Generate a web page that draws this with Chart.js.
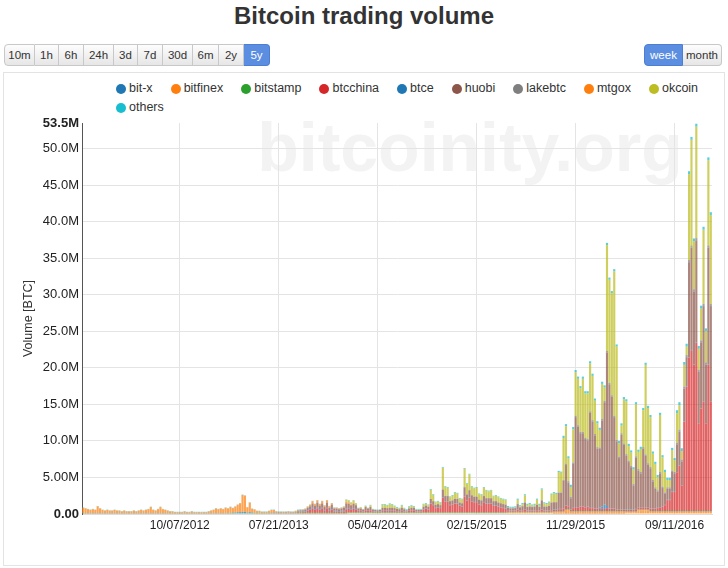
<!DOCTYPE html>
<html>
<head>
<meta charset="utf-8">
<title>Bitcoin trading volume</title>
<script src="https://cdn.jsdelivr.net/npm/chart.js@4.4.1/dist/chart.umd.min.js"></script>
<style>
  html, body { margin: 0; padding: 0; background: #fff; }
  body { width: 728px; height: 568px; position: relative; overflow: hidden; font-family: "Liberation Sans", Arial, sans-serif; color: #333; }
  h1 { position: absolute; top: 0; left: 0; width: 728px; margin: 0; text-align: center; font-size: 24px; line-height: 32px; font-weight: bold; color: #333; }
  .group { position: absolute; top: 44px; display: flex; }
  .group span { box-sizing: border-box; height: 22px; line-height: 20px; text-align: center; font-size: 11.5px; border: 1px solid #c8c8c8; border-left-width: 0; background: linear-gradient(#fdfdfd, #e6e6e6); color: #333; }
  .group span:first-child { border-left-width: 1px; border-radius: 4px 0 0 4px; }
  .group span:last-child { border-radius: 0 4px 4px 0; }
  .group span.on { background: #5b8ee0; border-color: #4c7fd2; color: #fff; }
  .box { position: absolute; left: 3px; top: 72px; width: 720px; height: 492px; border: 1px solid #e3e3e3; }
  #legend { position: absolute; left: 116px; top: 79px; width: 590px; display: flex; flex-wrap: wrap; column-gap: 18px; font-size: 12.5px; line-height: 19px; color: #333; }
  #legend div { display: flex; align-items: center; }
  #legend i { width: 10px; height: 10px; border-radius: 50%; margin-right: 3px; display: inline-block; }
  #wrap { position: absolute; left: 4px; top: 112px; width: 720px; height: 450px; }
</style>
</head>
<body>
<h1>Bitcoin trading volume</h1>
<div class="group" style="left:4px">
  <span style="width:31px">10m</span><span style="width:24px">1h</span><span style="width:25px">6h</span><span style="width:30px">24h</span><span style="width:24px">3d</span><span style="width:25px">7d</span><span style="width:30px">30d</span><span style="width:26px">6m</span><span style="width:25px">2y</span><span class="on" style="width:26px">5y</span>
</div>
<div class="group" style="left:644px">
  <span class="on" style="width:39px">week</span><span style="width:39px">month</span>
</div>
<div class="box"></div>
<div id="legend"></div>
<div id="wrap"><canvas id="chart"></canvas></div>

<script>
// weekly buckets, first week starts 01/01/2012
const firstWeek = Date.UTC(2012, 0, 1);
const weekCount = 261;
const weeks = [];
for (let i = 0; i < weekCount; i++) {
  const d = new Date(firstWeek + i * 7 * 864e5);
  weeks.push(String(d.getUTCMonth() + 1).padStart(2, '0') + '/' + String(d.getUTCDate()).padStart(2, '0') + '/' + d.getUTCFullYear());
}
const xTickLabels = ['10/07/2012', '07/21/2013', '05/04/2014', '02/15/2015', '11/29/2015', '09/11/2016'];
const yTickValues = [0, 5, 10, 15, 20, 25, 30, 35, 40, 45, 50, 53.5];
const yMax = 53.5;

const seriesNames = ['bit-x', 'bitfinex', 'bitstamp', 'btcchina', 'btce', 'huobi', 'lakebtc', 'mtgox', 'okcoin', 'others'];
const seriesColors = ['#1f77b4', '#ff7f0e', '#2ca02c', '#d62728', '#1f77b4', '#8c564b', '#7f7f7f', '#ff7f0e', '#bcbd22', '#17becf'];

// volumes in millions of BTC, each series starts at the given week index
const bitxStart = 195;
const bitx = [
  0.05, 0.05, 0.05, 0.05, 0.05, 0.05, 0.05, 0.05, 0.05, 0.05,
  0.05, 0.05, 0.05, 0.05, 0.05, 0.05, 0.05, 0.05, 0.05, 0.05,
  0.05, 0.05, 0.05, 0.05, 0.05, 0.05, 0.05, 0.05, 0.05, 0.05
];

const bitfinexStart = 60;
const bitfinex = [
  0.05, 0.05, 0.05, 0.05, 0.05, 0.05, 0.05, 0.05, 0.05, 0.05,
  0.05, 0.05, 0.05, 0.05, 0.05, 0.05, 0.05, 0.05, 0.05, 0.05,
  0.05, 0.05, 0.05, 0.05, 0.05, 0.05, 0.05, 0.05, 0.05, 0.05,
  0.05, 0.05, 0.05, 0.05, 0.05, 0.05, 0.05, 0.05, 0.05, 0.05,
  0.05, 0.05, 0.05, 0.05, 0.05, 0.05, 0.05, 0.05, 0.05, 0.05,
  0.1, 0.1, 0.1, 0.1, 0.1, 0.1, 0.1, 0.1, 0.1, 0.1,
  0.1, 0.1, 0.1, 0.1, 0.1, 0.1, 0.1, 0.1, 0.1, 0.1,
  0.1, 0.1, 0.1, 0.1, 0.1, 0.1, 0.1, 0.1, 0.1, 0.1,
  0.1, 0.1, 0.1, 0.1, 0.1, 0.1, 0.1, 0.1, 0.1, 0.1,
  0.1, 0.1, 0.1, 0.1, 0.1, 0.1, 0.1, 0.1, 0.1, 0.1,
  0.1, 0.1, 0.1, 0.1, 0.1, 0.1, 0.1, 0.1, 0.1, 0.1,
  0.1, 0.1, 0.1, 0.1, 0.1, 0.1, 0.2, 0.2, 0.2, 0.2,
  0.2, 0.2, 0.2, 0.2, 0.2, 0.2, 0.2, 0.2, 0.2, 0.2,
  0.2, 0.2, 0.2, 0.2, 0.2, 0.2, 0.2, 0.2, 0.2, 0.2,
  0.5, 0.5, 0.25, 0.25, 0.25, 0.25, 0.25, 0.25, 0.25, 0.25,
  0.25, 0.25, 0.25, 0.25, 0.25, 0.25, 0.25, 0.25, 0.25, 0.25,
  0.25, 0.25, 0.25, 0.25, 0.25, 0.25, 0.25, 0.25, 0.25, 0.25,
  0.5, 0.5, 0.5, 0.5, 0.5, 0.3, 0.3, 0.3, 0.3, 0.3,
  0.3, 0.3, 0.3, 0.3, 0.3, 0.3, 0.3, 0.3, 0.3, 0.3,
  0.3, 0.3, 0.3, 0.3, 0.3, 0.3, 0.3, 0.3, 0.3, 0.3,
  0.3
];

const bitstampStart = 0;
const bitstamp = [
  0.05, 0.05, 0.05, 0.05, 0.05, 0.05, 0.05, 0.05, 0.05, 0.05,
  0.05, 0.05, 0.05, 0.05, 0.05, 0.05, 0.05, 0.05, 0.05, 0.05,
  0.05, 0.05, 0.05, 0.05, 0.05, 0.05, 0.05, 0.05, 0.05, 0.05,
  0.05, 0.05, 0.05, 0.05, 0.05, 0.05, 0.05, 0.05, 0.05, 0.05,
  0.05, 0.05, 0.05, 0.05, 0.05, 0.05, 0.05, 0.05, 0.05, 0.05,
  0.05, 0.05, 0.05, 0.05, 0.05, 0.05, 0.05, 0.05, 0.05, 0.05,
  0.05, 0.05, 0.05, 0.05, 0.05, 0.05, 0.05, 0.05, 0.05, 0.05,
  0.05, 0.05, 0.05, 0.05, 0.05, 0.05, 0.05, 0.05, 0.05, 0.05,
  0.05, 0.05, 0.05, 0.05, 0.05, 0.05, 0.05, 0.05, 0.05, 0.1,
  0.1, 0.1, 0.1, 0.1, 0.1, 0.1, 0.1, 0.1, 0.1, 0.1,
  0.1, 0.1, 0.1, 0.1, 0.1, 0.1, 0.1, 0.1, 0.1, 0.1,
  0.1, 0.1, 0.1, 0.1, 0.1, 0.1, 0.1, 0.1, 0.1, 0.1,
  0.1, 0.1, 0.1, 0.1, 0.1, 0.1, 0.1, 0.1, 0.1, 0.1,
  0.1, 0.1, 0.1, 0.1, 0.1, 0.1, 0.1, 0.1, 0.1, 0.1,
  0.1, 0.1, 0.1, 0.1, 0.1, 0.1, 0.1, 0.1, 0.1, 0.1,
  0.1, 0.1, 0.1, 0.1, 0.1, 0.1, 0.1, 0.1, 0.1, 0.1,
  0.1, 0.1, 0.1, 0.1, 0.1, 0.1, 0.1, 0.1, 0.1, 0.1,
  0.1, 0.1, 0.1, 0.1, 0.1, 0.1, 0.1, 0.1, 0.1, 0.1,
  0.1, 0.1, 0.1, 0.1, 0.1, 0.1, 0.1, 0.1, 0.1, 0.1,
  0.1, 0.1, 0.1, 0.1, 0.1, 0.1, 0.1, 0.1, 0.1, 0.1,
  0.1, 0.1, 0.1, 0.1, 0.1, 0.1, 0.1, 0.1, 0.1, 0.1,
  0.1, 0.1, 0.1, 0.1, 0.1, 0.1, 0.1, 0.1, 0.1, 0.1,
  0.1, 0.1, 0.1, 0.1, 0.1, 0.1, 0.1, 0.1, 0.1, 0.1,
  0.1, 0.1, 0.1, 0.1, 0.1, 0.1, 0.1, 0.1, 0.1, 0.1,
  0.1, 0.1, 0.1, 0.1, 0.1, 0.1, 0.1, 0.1, 0.1, 0.1,
  0.1, 0.1, 0.1, 0.1, 0.1, 0.1, 0.1, 0.1, 0.1, 0.1,
  0.1
];

const btcchinaStart = 78;
const btcchina = [
  0.05, 0.05, 0.05, 0.05, 0.05, 0.05, 0.05, 0.05, 0.05, 0.05,
  0.05, 0.1, 0.1, 0.1, 0.15, 0.3, 0.4, 0.6, 0.4, 0.6,
  0.4, 0.6, 0.3, 0.6, 0.3, 0.4, 0.2, 0.2, 0.15, 0.2,
  0.2, 0.5, 0.5, 0.4, 0.5, 0.4, 0.2, 0.2, 0.15, 0.3,
  0.2, 0.3, 0.15, 0.1, 0.1, 0.1, 0.2, 0.2, 0.2, 0.2,
  0.2, 0.2, 0.15, 0.15, 0.2, 0.15, 0.1, 0.2, 0.3, 0.3,
  0.15, 0.15, 0.15, 0.4, 0.5, 0.4, 1.2, 1.0, 0.6, 0.7,
  0.6, 2.0, 1.5, 1.5, 1.0, 1.1, 1.2, 1.2, 0.9, 0.8,
  2.2, 1.6, 2.0, 1.5, 1.4, 1.4, 1.1, 1.0, 1.4, 1.2,
  1.2, 1.2, 0.9, 0.9, 0.8, 0.7, 0.6, 0.5, 0.2, 0.15,
  0.15, 0.15, 0.3, 0.15, 0.2, 0.3, 0.15, 0.15, 0.15, 0.15,
  0.2, 0.15, 0.3, 0.15, 0.15, 0.15, 0.2, 0.2, 0.2, 0.3,
  0.3, 0.4, 0.5, 0.4, 0.2, 0.4, 0.5, 0.5, 0.6, 0.6,
  0.5, 0.6, 0.4, 0.4, 0.3, 0.3, 0.3, 0.3, 0.3, 0.4,
  0.3, 0.3, 0.3, 0.2, 0.2, 0.2, 0.2, 0.2, 0.2, 0.2,
  0.2, 0.3, 0.3, 0.3, 0.3, 0.3, 0.3, 0.3, 0.3, 0.3,
  0.4, 0.5, 0.6, 0.8, 1.5, 1.5, 2.6, 2.6, 5.3, 6.2,
  3.5, 12.2, 17.0, 21.0, 22.0, 20.0, 23.0, 12.0, 14.0, 15.0,
  12.0, 20.0, 15.0
];

const btceStart = 0;
const btce = [
  0.05, 0.05, 0.05, 0.05, 0.05, 0.05, 0.05, 0.05, 0.05, 0.05,
  0.05, 0.05, 0.05, 0.05, 0.05, 0.05, 0.05, 0.05, 0.05, 0.05,
  0.05, 0.05, 0.05, 0.05, 0.05, 0.05, 0.05, 0.05, 0.05, 0.05,
  0.05, 0.05, 0.05, 0.05, 0.05, 0.05, 0.05, 0.05, 0.05, 0.05,
  0.05, 0.05, 0.05, 0.05, 0.05, 0.05, 0.05, 0.05, 0.05, 0.05,
  0.05, 0.05, 0.05, 0.05, 0.05, 0.05, 0.05, 0.05, 0.05, 0.05,
  0.05, 0.05, 0.1, 0.1, 0.15, 0.15, 0.2, 0.2, 0.1, 0.15,
  0.1, 0.05, 0.05, 0.05, 0.05, 0.05, 0.05, 0.05, 0.05, 0.05,
  0.05, 0.05, 0.05, 0.05, 0.05, 0.05, 0.05, 0.05, 0.05, 0.1,
  0.1, 0.1, 0.1, 0.1, 0.1, 0.1, 0.1, 0.1, 0.1, 0.1,
  0.1, 0.1, 0.1, 0.1, 0.1, 0.1, 0.1, 0.1, 0.1, 0.1,
  0.1, 0.1, 0.1, 0.1, 0.05, 0.05, 0.05, 0.05, 0.05, 0.05,
  0.05, 0.05, 0.05, 0.05, 0.05, 0.05, 0.05, 0.05, 0.05, 0.05,
  0.05, 0.05, 0.05, 0.05, 0.05, 0.05, 0.05, 0.05, 0.05, 0.05,
  0.05, 0.05, 0.05, 0.05, 0.05, 0.05, 0.05, 0.05, 0.05, 0.05,
  0.05, 0.05, 0.05, 0.05, 0.05, 0.05, 0.05, 0.05, 0.05, 0.05,
  0.05, 0.05, 0.05, 0.05, 0.05, 0.05, 0.05, 0.05, 0.05, 0.05,
  0.05, 0.05, 0.05, 0.05, 0.05, 0.05, 0.05, 0.05, 0.05, 0.05,
  0.05, 0.05, 0.05, 0.05, 0.05, 0.05, 0.05, 0.05, 0.05, 0.05,
  0.05, 0.05, 0.05, 0.05, 0.05, 0.05, 0.05, 0.05, 0.05, 0.05,
  0.05, 0.05, 0.05, 0.05, 0.05, 0.05, 0.05, 0.05, 0.05, 0.05,
  0.05, 0.05, 0.05, 0.05, 0.2, 0.3, 0.6, 0.3, 0.05, 0.05,
  0.05, 0.05, 0.05, 0.05, 0.05, 0.05, 0.05, 0.05, 0.05, 0.05,
  0.05, 0.05, 0.05, 0.05, 0.05, 0.05, 0.05, 0.05, 0.05, 0.05,
  0.05, 0.05, 0.05, 0.05, 0.05, 0.05, 0.05, 0.05, 0.05, 0.05,
  0.05, 0.05, 0.05, 0.05, 0.05, 0.05, 0.05, 0.05, 0.05, 0.05,
  0.05
];

const huobiStart = 88;
const huobi = [
  0.05, 0.1, 0.15, 0.15, 0.2, 0.3, 0.4, 0.6, 0.5, 0.7,
  0.5, 0.6, 0.4, 0.7, 0.3, 0.6, 0.3, 0.3, 0.25, 0.3,
  0.4, 0.7, 0.6, 0.5, 0.6, 0.5, 0.3, 0.3, 0.2, 0.4,
  0.3, 0.4, 0.2, 0.2, 0.15, 0.2, 0.4, 0.4, 0.35, 0.4,
  0.4, 0.35, 0.3, 0.25, 0.4, 0.25, 0.15, 0.3, 0.3, 0.3,
  0.15, 0.15, 0.15, 0.35, 0.4, 0.35, 0.6, 0.5, 0.4, 0.4,
  0.35, 1.1, 0.7, 0.7, 0.5, 0.5, 0.6, 0.6, 0.4, 0.4,
  1.2, 0.8, 1.0, 0.8, 0.7, 0.7, 0.6, 0.6, 0.8, 0.7,
  0.7, 0.7, 0.6, 0.6, 0.5, 0.5, 0.5, 0.5, 0.3, 0.25,
  0.25, 0.3, 0.7, 0.4, 0.5, 0.9, 0.45, 0.5, 0.45, 0.5,
  0.7, 0.45, 1.2, 0.5, 0.5, 0.6, 1.0, 1.0, 1.0, 2.2,
  2.2, 3.8, 5.5, 3.2, 1.5, 6.0, 12.3, 11.0, 10.0, 10.0,
  9.3, 9.0, 13.0, 11.8, 10.0, 8.2, 8.0, 11.8, 14.0, 21.0,
  17.0, 15.3, 12.5, 9.3, 7.0, 10.2, 8.8, 7.4, 6.5, 5.8,
  3.3, 7.0, 5.0, 4.6, 8.0, 7.0, 5.8, 5.5, 3.7, 2.7,
  2.2, 4.6, 2.5, 1.5, 1.5, 1.5, 2.7, 2.5, 3.7, 4.6,
  3.2, 4.5, 4.0, 13.0, 14.0, 10.0, 14.0, 7.0, 9.0, 13.0,
  8.0, 16.0, 13.0
];

const lakebtcStart = 150;
const lakebtc = [
  0.05, 0.05, 0.05, 0.05, 0.05, 0.05, 0.05, 0.05, 0.05, 0.05,
  0.05, 0.05, 0.05, 0.05, 0.05, 0.05, 0.05, 0.05, 0.05, 0.05,
  0.05, 0.05, 0.05, 0.05, 0.05, 0.05, 0.05, 0.05, 0.05, 0.05,
  0.05, 0.05, 0.05, 0.05, 0.05, 0.05, 0.05, 0.05, 0.05, 0.05,
  0.05, 0.05, 0.05, 0.05, 0.05, 0.05, 0.05, 0.05, 0.05, 0.05,
  0.2, 0.2, 0.2, 0.2, 0.2, 0.2, 0.2, 0.2, 0.2, 0.2,
  0.2, 0.2, 0.2, 0.2, 0.2, 0.2, 0.2, 0.2, 0.2, 0.2,
  0.2, 0.2, 0.2, 0.2, 0.2, 0.2, 0.2, 0.2, 0.2, 0.2,
  0.2, 0.2, 0.2, 0.2, 0.2, 0.2, 0.2, 0.2, 0.2, 0.2,
  0.2, 0.2, 0.2, 0.2, 0.2, 0.2, 0.3, 0.3, 0.3, 0.3,
  0.3, 0.3, 0.3, 0.3, 0.3, 0.3, 0.3, 0.3, 0.3, 0.3,
  0.3
];

const mtgoxStart = 0;
const mtgox = [
  0.75, 0.65, 0.55, 0.45, 0.55, 0.45, 0.95, 0.65, 0.45, 0.35,
  0.45, 0.35, 0.35, 0.45, 0.35, 0.35, 0.25, 0.35, 0.25, 0.25,
  0.25, 0.35, 0.25, 0.35, 0.45, 0.35, 0.45, 0.55, 0.85, 0.45,
  0.35, 0.55, 0.85, 0.55, 0.45, 0.35, 0.25, 0.25, 0.15, 0.15,
  0.15, 0.15, 0.25, 0.15, 0.15, 0.25, 0.15, 0.15, 0.15, 0.15,
  0.15, 0.15, 0.25, 0.35, 0.45, 0.65, 0.55, 0.65, 0.55, 0.75,
  0.6, 0.8, 0.6, 0.8, 1.0, 1.2, 2.3, 2.2, 0.7, 1.3,
  0.5, 0.45, 0.25, 0.25, 0.15, 0.15, 0.15, 0.25, 0.35, 0.35,
  0.15, 0.1, 0.1, 0.1, 0.1, 0.15, 0.1, 0.1, 0.15, 0.1,
  0.1, 0.1, 0.1, 0.15, 0.2, 0.3, 0.2, 0.3, 0.2, 0.3,
  0.2, 0.3, 0.2, 0.2, 0.1, 0.1, 0.1, 0.1, 0.1, 0.2,
  0.2, 0.1, 0.1
];

const okcoinStart = 108;
const okcoin = [
  0.05, 0.3, 0.25, 0.25, 0.35, 0.25, 0.05, 0.15, 0.05, 0.15,
  0.05, 0.25, 0.05, 0.05, 0.05, 0.05, 0.4, 0.4, 0.35, 0.5,
  0.4, 0.25, 0.15, 0.1, 0.3, 0.1, 0.05, 0.2, 0.25, 0.15,
  0.05, 0.05, 0.05, 0.3, 0.25, 0.2, 1.25, 0.85, 0.35, 0.35,
  0.3, 2.95, 1.2, 1.1, 0.5, 0.6, 0.8, 0.7, 0.5, 0.5,
  2.5, 1.4, 2.1, 1.1, 1.1, 1.2, 0.7, 0.7, 1.1, 1.0,
  0.9, 1.0, 0.6, 0.7, 0.7, 0.6, 0.6, 0.6, 0.05, 0.05,
  0.05, 0.05, 0.55, 0.1, 0.25, 0.95, 0.25, 0.3, 0.15, 0.2,
  0.65, 0.25, 1.45, 0.4, 0.3, 0.4, 1.05, 1.2, 1.1, 2.8,
  2.7, 5.75, 5.1, 3.1, 1.35, 4.55, 5.95, 6.35, 5.95, 7.25,
  6.05, 6.25, 6.55, 6.05, 4.55, 3.25, 2.4, 4.8, 1.8, 14.5,
  14.1, 13.95, 19.75, 12.75, 1.85, 1.05, 6.05, 7.2, 2.0, 1.8,
  2.0, 7.1, 2.35, 3.15, 5.05, 12.25, 7.55, 6.8, 3.6, 3.2,
  1.8, 7.8, 4.0, 2.8, 1.0, 1.0, 2.8, 1.6, 4.05, 3.35,
  1.15, 2.95, 1.15, 11.75, 14.45, 6.55, 15.25, 2.85, 4.35, 10.15,
  4.25, 11.65, 12.15
];

const othersStart = 0;
const others = [
  0.05, 0.05, 0.05, 0.05, 0.05, 0.05, 0.05, 0.05, 0.05, 0.05,
  0.05, 0.05, 0.05, 0.05, 0.05, 0.05, 0.05, 0.05, 0.05, 0.05,
  0.05, 0.05, 0.05, 0.05, 0.05, 0.05, 0.05, 0.05, 0.05, 0.05,
  0.05, 0.05, 0.05, 0.05, 0.05, 0.05, 0.05, 0.05, 0.05, 0.05,
  0.05, 0.05, 0.05, 0.05, 0.05, 0.05, 0.05, 0.05, 0.05, 0.05,
  0.05, 0.05, 0.05, 0.05, 0.05, 0.05, 0.05, 0.05, 0.05, 0.05,
  0.05, 0.05, 0.05, 0.05, 0.05, 0.05, 0.05, 0.05, 0.05, 0.05,
  0.05, 0.05, 0.05, 0.05, 0.05, 0.05, 0.05, 0.05, 0.05, 0.05,
  0.05, 0.05, 0.05, 0.05, 0.05, 0.05, 0.05, 0.05, 0.05, 0.05,
  0.05, 0.05, 0.05, 0.05, 0.05, 0.05, 0.05, 0.05, 0.05, 0.05,
  0.05, 0.05, 0.05, 0.05, 0.05, 0.05, 0.05, 0.05, 0.05, 0.05,
  0.05, 0.05, 0.05, 0.05, 0.05, 0.05, 0.05, 0.05, 0.05, 0.05,
  0.05, 0.05, 0.05, 0.05, 0.1, 0.1, 0.1, 0.1, 0.1, 0.1,
  0.1, 0.1, 0.1, 0.1, 0.1, 0.1, 0.1, 0.1, 0.1, 0.1,
  0.1, 0.1, 0.1, 0.1, 0.1, 0.1, 0.1, 0.1, 0.1, 0.1,
  0.1, 0.1, 0.1, 0.1, 0.1, 0.1, 0.1, 0.1, 0.1, 0.1,
  0.1, 0.1, 0.1, 0.1, 0.1, 0.1, 0.1, 0.1, 0.1, 0.1,
  0.1, 0.1, 0.1, 0.1, 0.1, 0.1, 0.15, 0.15, 0.15, 0.15,
  0.15, 0.15, 0.15, 0.15, 0.15, 0.15, 0.15, 0.15, 0.15, 0.15,
  0.15, 0.15, 0.15, 0.15, 0.15, 0.15, 0.15, 0.15, 0.15, 0.3,
  0.3, 0.3, 0.3, 0.3, 0.3, 0.3, 0.3, 0.3, 0.3, 0.3,
  0.3, 0.3, 0.3, 0.3, 0.3, 0.3, 0.3, 0.3, 0.3, 0.3,
  0.3, 0.3, 0.3, 0.3, 0.3, 0.3, 0.3, 0.3, 0.3, 0.3,
  0.3, 0.3, 0.3, 0.3, 0.3, 0.3, 0.3, 0.3, 0.3, 0.3,
  0.3, 0.3, 0.3, 0.3, 0.3, 0.3, 0.4, 0.4, 0.4, 0.4,
  0.4, 0.4, 0.4, 0.4, 0.4, 0.4, 0.4, 0.4, 0.4, 0.4,
  0.4
];

// put a series on the full week axis, empty before it starts
function onWeeks(start, values) {
  const out = new Array(weekCount).fill(null);
  values.forEach((v, i) => { if (start + i < weekCount) out[start + i] = v; });
  return out;
}

const seriesData = [
  onWeeks(bitxStart, bitx),
  onWeeks(bitfinexStart, bitfinex),
  onWeeks(bitstampStart, bitstamp),
  onWeeks(btcchinaStart, btcchina),
  onWeeks(btceStart, btce),
  onWeeks(huobiStart, huobi),
  onWeeks(lakebtcStart, lakebtc),
  onWeeks(mtgoxStart, mtgox),
  onWeeks(okcoinStart, okcoin),
  onWeeks(othersStart, others)
];

function alpha(hex, a) {
  const n = parseInt(hex.slice(1), 16);
  return 'rgba(' + (n >> 16) + ',' + ((n >> 8) & 255) + ',' + (n & 255) + ',' + a + ')';
}

// legend (html, like the original page)
const legendEl = document.getElementById('legend');
seriesNames.forEach((name, i) => {
  const item = document.createElement('div');
  item.innerHTML = '<i style="background:' + seriesColors[i] + '"></i>' + name;
  legendEl.appendChild(item);
});

const watermark = {
  id: 'watermark',
  beforeDraw(chart) {
    const { ctx, chartArea } = chart;
    ctx.save();
    ctx.font = 'bold 68px "Liberation Sans", Arial, sans-serif';
    ctx.fillStyle = '#f3f3f3';
    ctx.textAlign = 'center';
    ctx.fillText('bitcoinity.org', chartArea.left + 388, chartArea.top + 48);
    ctx.restore();
  }
};

const font = '"Liberation Sans", Arial, sans-serif';

new Chart(document.getElementById('chart'), {
  type: 'bar',
  data: {
    labels: weeks,
    datasets: seriesNames.map((name, i) => ({
      label: name,
      data: seriesData[i],
      backgroundColor: alpha(seriesColors[i], 0.72),
      borderWidth: 0,
      barPercentage: 0.9,
      categoryPercentage: 1.0
    }))
  },
  options: {
    responsive: true,
    maintainAspectRatio: false,
    animation: false,
    layout: { padding: { left: 14, right: 12, top: 11, bottom: 0 } },
    plugins: { legend: { display: false }, tooltip: { enabled: false } },
    scales: {
      x: {
        stacked: true,
        afterFit: (s) => { s.height = 48; },
        grid: {
          offset: false,
          drawTicks: false,
          color: (c) => (c.tick && xTickLabels.includes(weeks[c.tick.value]) ? '#e4e4e4' : 'rgba(0,0,0,0)')
        },
        border: { color: '#dddddd' },
        ticks: {
          autoSkip: false,
          maxRotation: 0,
          minRotation: 0,
          padding: 4,
          color: '#222',
          font: { family: font, size: 12 },
          callback(v) {
            const l = this.getLabelForValue(v);
            return xTickLabels.includes(l) ? l : null;
          }
        }
      },
      y: {
        stacked: true,
        min: 0,
        max: yMax,
        afterFit: (s) => { s.width = 64; },
        afterBuildTicks: (s) => { s.ticks = yTickValues.map((v) => ({ value: v })); },
        title: { display: true, text: 'Volume [BTC]', color: '#333', font: { family: font, size: 12.5 }, padding: { top: 3, bottom: 2 } },
        grid: {
          drawTicks: false,
          color: (c) => (c.tick && c.tick.value === yMax ? 'rgba(0,0,0,0)' : '#e4e4e4')
        },
        border: { display: true, color: '#555' },
        ticks: {
          padding: 3,
          color: '#222',
          font: (c) => ({ family: font, size: 13, weight: c.tick && (c.tick.value === 0 || c.tick.value === yMax) ? 'bold' : 'normal' }),
          callback: (v) => (v === 0 ? '0.00' : v < 10 ? v.toFixed(2) + 'M' : v.toFixed(1) + 'M')
        }
      }
    }
  },
  plugins: [watermark]
});
</script>
</body>
</html>
